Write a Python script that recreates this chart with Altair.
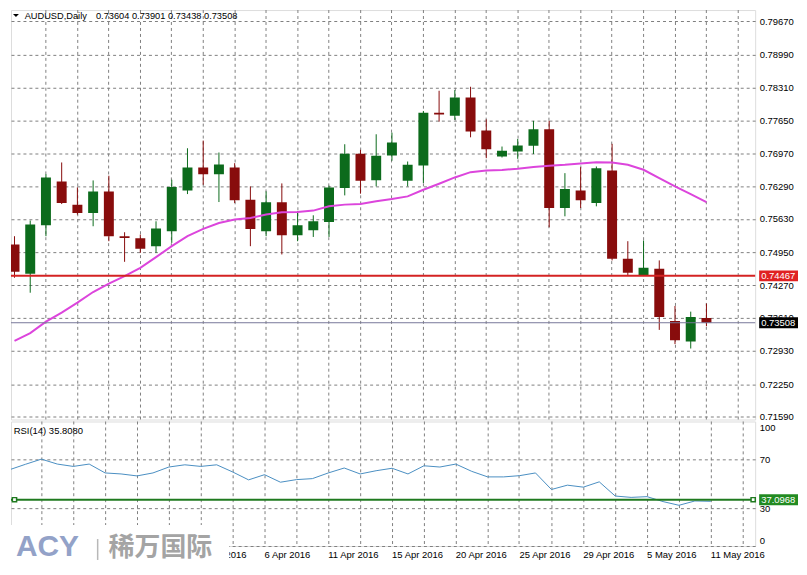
import altair as alt
import pandas as pd

# ---------------- data ----------------
symbol_text = "AUDUSD,Daily"
ohlc_text = "0.73604 0.73901 0.73438 0.73508"
rsi_text = "RSI(14) 35.8080"

opens = [0.75109, 0.74509, 0.75502, 0.76399, 0.75924, 0.75753, 0.76195, 0.75278, 0.75237, 0.75074,
         0.75380, 0.76215, 0.76684, 0.76547, 0.76684, 0.76026, 0.75380, 0.75971, 0.75298, 0.75400,
         0.75569, 0.76262, 0.76963, 0.76425, 0.76929, 0.76413, 0.76725, 0.77805, 0.77744, 0.78117,
         0.77438, 0.76908, 0.77010, 0.77126, 0.77465, 0.75854, 0.76215, 0.75956, 0.76623, 0.74815,
         0.74483, 0.74611, 0.73545, 0.73124, 0.73604]
highs = [0.75278, 0.75598, 0.76547, 0.76786, 0.76276, 0.76419, 0.76515, 0.75359, 0.75312, 0.75583,
         0.76433, 0.77077, 0.77234, 0.76990, 0.76772, 0.76297, 0.76195, 0.76358, 0.75787, 0.75706,
         0.76311, 0.77159, 0.77045, 0.77363, 0.77397, 0.76806, 0.77840, 0.78253, 0.78267, 0.78335,
         0.77668, 0.77112, 0.77269, 0.77638, 0.77638, 0.76568, 0.76690, 0.76704, 0.77167, 0.75176,
         0.75190, 0.74783, 0.73851, 0.73735, 0.73901]
lows = [0.74428, 0.74122, 0.75278, 0.75936, 0.75720, 0.75482, 0.75176, 0.74754, 0.74937, 0.74937,
        0.75141, 0.76140, 0.76331, 0.75977, 0.75956, 0.75074, 0.75278, 0.74905, 0.75176, 0.75263,
        0.75263, 0.76113, 0.76148, 0.76297, 0.76821, 0.76297, 0.76364, 0.77621, 0.77656, 0.77301,
        0.76874, 0.76888, 0.76861, 0.76959, 0.75461, 0.75685, 0.75854, 0.75889, 0.74783, 0.74477,
        0.74463, 0.73362, 0.73071, 0.72981, 0.73438]
closes = [0.74550, 0.75516, 0.76480, 0.75956, 0.75753, 0.76195, 0.75278, 0.75243, 0.75019, 0.75435,
          0.76282, 0.76684, 0.76547, 0.76745, 0.76011, 0.75427, 0.75971, 0.75298, 0.75502, 0.75583,
          0.76276, 0.76963, 0.76413, 0.76922, 0.77193, 0.76739, 0.77805, 0.77770, 0.78117, 0.77418,
          0.77057, 0.77024, 0.77132, 0.77465, 0.75854, 0.76242, 0.76011, 0.76670, 0.74815, 0.74530,
          0.74632, 0.73627, 0.73152, 0.73627, 0.73508]
ma_values = [0.73138, 0.73295, 0.73531, 0.73715, 0.73918, 0.74136, 0.74306, 0.74463, 0.74632, 0.74850,
             0.75074, 0.75278, 0.75427, 0.75549, 0.75618, 0.75651, 0.75720, 0.75767, 0.75773, 0.75802,
             0.75889, 0.75924, 0.75936, 0.75991, 0.76038, 0.76093, 0.76229, 0.76352, 0.76480, 0.76588,
             0.76623, 0.76633, 0.76657, 0.76694, 0.76721, 0.76739, 0.76765, 0.76792, 0.76786, 0.76739,
             0.76637, 0.76466, 0.76297, 0.76140, 0.75977]
rsi_values = [61.4, 65.8, 70.0, 66.0, 64.1, 66.0, 58.8, 58.0, 56.4, 58.8,
              63.6, 65.4, 64.1, 65.4, 59.6, 53.2, 57.4, 51.3, 53.4, 54.2,
              58.8, 62.8, 58.0, 60.6, 62.6, 58.0, 64.6, 63.6, 66.0, 60.1,
              55.6, 55.6, 56.6, 58.8, 45.4, 48.9, 47.3, 51.6, 40.1, 39.0,
              39.6, 35.6, 32.6, 36.1, 35.81]

price_ticks = [0.79670, 0.78990, 0.78310, 0.77650, 0.76970, 0.76290, 0.75630,
               0.74950, 0.74270, 0.73610, 0.72930, 0.72250, 0.71590]
rsi_ticks = [0, 30, 70, 100]
date_index = [12, 16, 20, 24, 28, 32, 36, 40, 44]
date_labels = ["1 Apr 2016", "6 Apr 2016", "11 Apr 2016", "15 Apr 2016", "20 Apr 2016",
               "25 Apr 2016", "29 Apr 2016", "5 May 2016", "11 May 2016"]
support_level = 0.74467
bid_level = 0.73508
rsi_level = 37.0968
logo_latin = "ACY"
logo_cjk = "稀万国际"

# ---------------- styling ----------------
FONT = "Liberation Sans"
FS = 9.5
GRID = "#808080"
UP = "#0c6b1c"
DOWN = "#880c0c"
W, H_MAIN, H_RSI = 747, 411, 125

n = len(opens)
df = pd.DataFrame({
    "i": list(range(n)), "open": opens, "high": highs, "low": lows,
    "close": closes, "ma": ma_values, "rsi": rsi_values,
})
df["dir"] = ["up" if c >= o else "down" for o, c in zip(opens, closes)]
one = pd.DataFrame({"k": [0]})

x_scale = alt.Scale(domain=[0.09375, 46.78125], nice=False, zero=False)
grid_idx = list(range(2, 47, 2))

x_axis_main = alt.Axis(values=grid_idx, grid=True, gridColor=GRID, gridDash=[3, 3],
                       labels=False, ticks=False, domain=False, title=None, translate=0)
label_expr = " : ".join(f"datum.value == {i} ? '{t}'" for i, t in zip(date_index, date_labels)) + " : ''"
x_axis_rsi = alt.Axis(values=grid_idx, grid=True, gridColor=GRID, gridDash=[3, 3],
                      labelExpr=label_expr, labelAlign="left", labelBaseline="top",
                      labelPadding=4, labelAngle=0, labelFont=FONT, labelFontSize=FS,
                      labelColor="#000000", labelOverlap=False, labelFlush=False,
                      ticks=False, domain=False, title=None, translate=0)

y_scale_main = alt.Scale(domain=[0.71529, 0.79904], nice=False, zero=False)
y_axis_main = alt.Axis(orient="right", values=price_ticks, format=".5f", grid=True,
                       gridColor=GRID, gridDash=[3, 3], ticks=False, domain=False,
                       labelFont=FONT, labelFontSize=FS, labelColor="#000000",
                       labelAlign="left", labelBaseline="middle", labelPadding=4,
                       labelOverlap=False, title=None)

y_scale_rsi = alt.Scale(domain=[-0.4, 100.5], nice=False, zero=False)
y_axis_rsi = alt.Axis(orient="right", values=rsi_ticks, grid=True, gridColor=GRID,
                      gridDash=[3, 3],
                      gridOpacity={"condition": {"test": "datum.value === 100", "value": 0}, "value": 1},
                      ticks=False, domain=False, labelFont=FONT, labelFontSize=FS,
                      labelColor="#000000", labelAlign="left", labelPadding=4,
                      labelFlush=6, labelOverlap=False, title=None)

X = alt.X("i:Q", scale=x_scale, axis=x_axis_main)
XR = alt.X("i:Q", scale=x_scale, axis=x_axis_rsi)
color_enc = alt.Color("dir:N", scale=alt.Scale(domain=["up", "down"], range=[UP, DOWN]), legend=None)


def py(field):
    return alt.Y(field, scale=y_scale_main, axis=y_axis_main, title=None)


def ry(field):
    return alt.Y(field, scale=y_scale_rsi, axis=y_axis_rsi, title=None)


# ---------------- main price panel ----------------
wicks = alt.Chart(df).mark_rule(strokeWidth=1, clip=True).encode(
    x=X, y=py("low:Q"), y2="high:Q", color=color_enc)
bodies = alt.Chart(df).mark_bar(size=10, clip=True).encode(
    x=X, y=py("open:Q"), y2="close:Q", color=color_enc)
ma_line = alt.Chart(df).mark_line(color="#dc45dc", strokeWidth=2, clip=True).encode(
    x=X, y=py("ma:Q"))

bid_df = pd.DataFrame({"v": [bid_level], "label": [f"{bid_level:.5f}"]})
sup_df = pd.DataFrame({"v": [support_level], "label": [f"{support_level:.5f}"]})

bid_rule = alt.Chart(bid_df).mark_rule(color="#77779a", strokeWidth=1).encode(y=py("v:Q"))
sup_rule = alt.Chart(sup_df).mark_rule(color="#d42222", strokeWidth=2).encode(y=py("v:Q"))

BOX_X, BOX_W, BOX_H = 770.5, 39, 11
sup_box = alt.Chart(sup_df).mark_tick(orient="horizontal", thickness=BOX_H, color="#e02222", opacity=1).encode(
    y=py("v:Q"), x=alt.value(BOX_X), size=alt.value(BOX_W))
bid_box = alt.Chart(bid_df).mark_tick(orient="horizontal", thickness=BOX_H, color="#000000", opacity=1).encode(
    y=py("v:Q"), x=alt.value(BOX_X), size=alt.value(BOX_W))
sup_txt = alt.Chart(sup_df).mark_text(align="left", baseline="middle", color="white", font=FONT, fontSize=FS).encode(
    y=py("v:Q"), x=alt.value(753), text="label:N")
bid_txt = alt.Chart(bid_df).mark_text(align="left", baseline="middle", color="white", font=FONT, fontSize=FS).encode(
    y=py("v:Q"), x=alt.value(753), text="label:N")

tri = alt.Chart(one).mark_point(shape="M-1,-0.5L1,-0.5L0,0.5Z", filled=True, size=36,
                                color="#000000", opacity=1, strokeWidth=0).encode(
    x=alt.value(5), y=alt.value(5.5))
sym = alt.Chart(pd.DataFrame({"t": [symbol_text]})).mark_text(
    align="left", baseline="middle", font=FONT, fontSize=9.3, color="#000000").encode(
    x=alt.value(13.7), y=alt.value(5.7), text="t:N")
ohlc = alt.Chart(pd.DataFrame({"t": [ohlc_text]})).mark_text(
    align="left", baseline="middle", font=FONT, fontSize=9.3, color="#000000").encode(
    x=alt.value(85.3), y=alt.value(5.7), text="t:N")

main = alt.layer(wicks, bodies, ma_line, bid_rule, sup_rule, sup_box, bid_box, sup_txt, bid_txt,
                 tri, sym, ohlc).properties(width=W, height=H_MAIN)

# ---------------- RSI panel ----------------
rsi_df = pd.DataFrame({"v": [rsi_level], "label": [f"{rsi_level:.4f}"]})
rsi_line = alt.Chart(df).mark_line(color="#4a8fc2", strokeWidth=1, clip=True).encode(
    x=XR, y=ry("rsi:Q"))
rsi_rule = alt.Chart(rsi_df).mark_rule(color="#1f7a1f", strokeWidth=2).encode(y=ry("v:Q"))
h1 = alt.Chart(rsi_df).mark_square(size=18, filled=True, color="white", stroke="#1f7a1f",
                                   strokeWidth=1.5, opacity=1).encode(x=alt.value(3.5), y=ry("v:Q"))
h2 = alt.Chart(rsi_df).mark_square(size=18, filled=True, color="white", stroke="#1f7a1f",
                                   strokeWidth=1.5, opacity=1).encode(x=alt.value(745), y=ry("v:Q"))
rsi_box = alt.Chart(rsi_df).mark_tick(orient="horizontal", thickness=BOX_H, color="#228b22", opacity=1).encode(
    y=ry("v:Q"), x=alt.value(BOX_X), size=alt.value(BOX_W))
rsi_box_txt = alt.Chart(rsi_df).mark_text(align="left", baseline="middle", color="white", font=FONT, fontSize=FS).encode(
    y=ry("v:Q"), x=alt.value(753), text="label:N")
rsi_lbl = alt.Chart(pd.DataFrame({"t": [rsi_text]})).mark_text(
    align="left", baseline="middle", font=FONT, fontSize=FS, color="#000000").encode(
    x=alt.value(2.7), y=alt.value(9.7), text="t:N")

logo_bg = alt.Chart(one).mark_rect(color="white").encode(
    x=alt.value(0), x2=alt.value(219), y=alt.value(104), y2=alt.value(140))
logo_a = alt.Chart(pd.DataFrame({"t": [logo_latin]})).mark_text(
    align="left", baseline="middle", font=FONT, fontSize=30, fontWeight="bold", color="#93a2c8").encode(
    x=alt.value(5), y=alt.value(126.5), text="t:N")
logo_bar = alt.Chart(one).mark_rule(color="#b8b8b8", strokeWidth=1.5).encode(
    x=alt.value(87), y=alt.value(118), y2=alt.value(139))
logo_c = alt.Chart(pd.DataFrame({"t": [logo_cjk]})).mark_text(
    align="left", baseline="middle", font="Noto Sans CJK SC", fontSize=26, fontWeight="bold",
    color="#a4a4a4").encode(x=alt.value(98), y=alt.value(127), text="t:N")

rsi = alt.layer(rsi_line, rsi_rule, h1, h2, rsi_box, rsi_box_txt, rsi_lbl,
                logo_bg, logo_a, logo_bar, logo_c).properties(width=W, height=H_RSI)

chart = alt.vconcat(main, rsi, spacing=2, bounds="flush").resolve_scale(
    x="independent", y="independent", color="independent"
).properties(padding=0).configure_view(strokeWidth=0).configure(background="white")

chart.save("out.html", embed_options={"renderer": "svg", "actions": False})
